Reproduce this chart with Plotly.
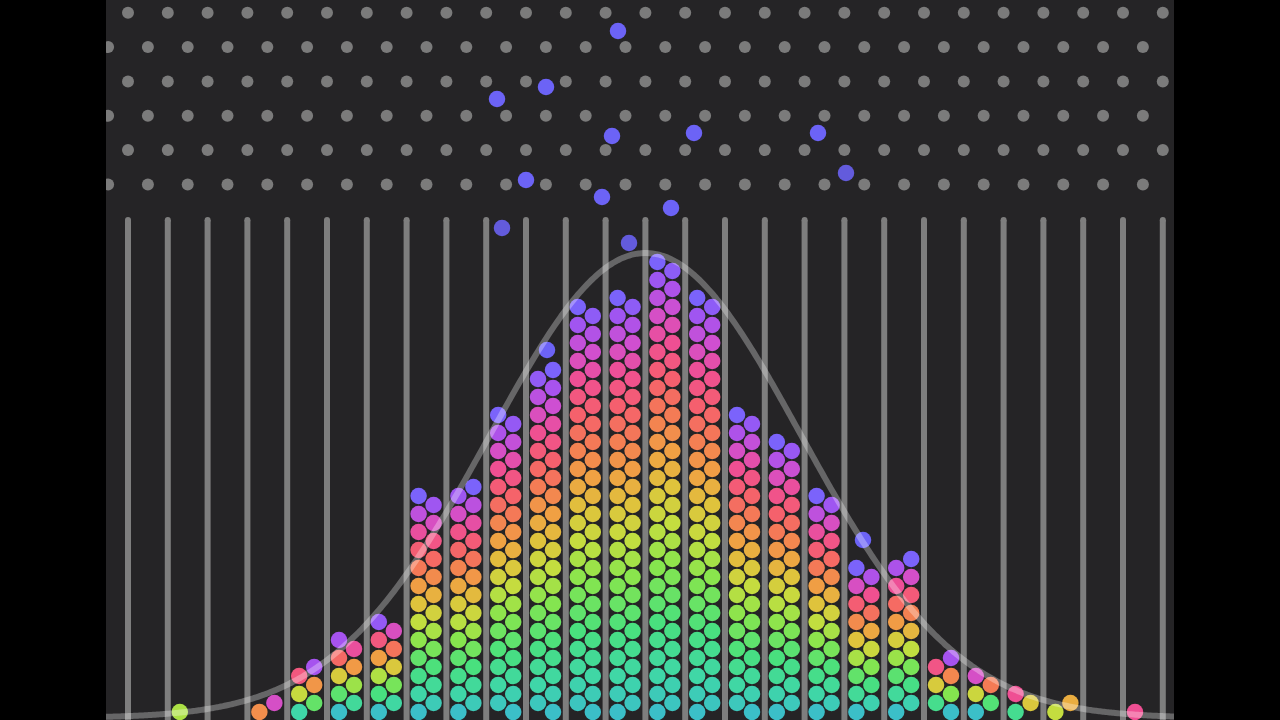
import numpy as np
import plotly.graph_objects as go

# ---------------- data ----------------
# balls settled in each of the 26 bins (left to right)
BIN_COUNTS = [0, 1, 0, 2, 6, 9, 11, 25, 26, 34, 39, 46, 47, 51,
              47, 34, 31, 25, 17, 18, 7, 5, 3, 2, 0, 1]
# column (Left / Right half of the bin) holding the topmost ball
BIN_TOP_COLUMN = ["L", "L", "L", "R", "R", "L", "L", "L", "R", "L", "R", "L", "L",
                  "L", "L", "L", "L", "L", "L", "R", "R", "L", "L", "R", "L", "L"]
# arrival phase (0 = first, 1 = latest) of the lowest and topmost ball of each bin
BIN_BOTTOM_PHASE = [0, 0.38, 0, 0.62, 0.08, 0, 0, 0, 0, 0, 0, 0, 0, 0,
                    0, 0, 0, 0, 0, 0, 0, 0, 0.15, 0.42, 0, 0.82]
BIN_TOP_PHASE = [1, 0.38, 1, 0.88, 0.95, 0.95, 0.97, 1, 1, 1, 1, 1, 1, 1,
                 1, 1, 1, 1, 1, 1, 0.95, 0.88, 0.82, 0.55, 1, 0.82]
# balls still falling through the pegs (board coordinates)
FALLING_X = [618, 546, 497, 612, 694, 818, 526, 602, 671, 846, 502, 629, 547, 863]
FALLING_Y = [31, 87, 99, 136, 133, 133, 180, 197, 208, 173, 228, 243, 350, 540]
FALLING_BLUR = [0, 0, 0, 0, 0, 0, 0, 0, 0, 1, 1, 1, 0, 0]
# normal curve drawn over the bins
CURVE_MEAN = 645.5
CURVE_SIGMA = 156
CURVE_PEAK = 465
CURVE_BASE = 718

# ---------------- board geometry / style ----------------
PITCH = 39.8
FIRST_DIVIDER = 128
N_DIVIDERS = 27
DIVIDER_TOP = 220
FLOOR = 712
HALF_ROW = 9
COL_OFFSET = {"L": 12, "R": 27}
PEG_ROWS = 6
PEG_ROW_Y0 = 12.7
PEG_ROW_STEP = 34.35

BG = "#252426"
PEG_COLOR = "#7b7b7b"
DIVIDER_COLOR = "#7e7e7e"
FALL_COLOR = "#6c63f6"
PALETTE = [
    (0.00, "#3bbfc8"), (0.08, "#3fd6a8"), (0.20, "#49e07e"), (0.32, "#86e54e"),
    (0.42, "#c4dd3f"), (0.50, "#dfc33c"), (0.58, "#f0a043"), (0.66, "#f47b55"),
    (0.74, "#f55f6e"), (0.82, "#ef4f93"), (0.89, "#d14fcf"), (0.95, "#a653ef"),
    (1.00, "#7b63fb"),
]


def hex2rgb(h):
    h = h.lstrip("#")
    return [int(h[i:i + 2], 16) for i in (0, 2, 4)]


def palette_color(t):
    t = min(max(t, 0.0), 1.0)
    for (t0, c0), (t1, c1) in zip(PALETTE[:-1], PALETTE[1:]):
        if t <= t1:
            f = 0 if t1 == t0 else (t - t0) / (t1 - t0)
            a, b = hex2rgb(c0), hex2rgb(c1)
            r = [round(a[i] + (b[i] - a[i]) * f) for i in range(3)]
            return "rgb(%d,%d,%d)" % tuple(r)
    return PALETTE[-1][1]


fig = go.Figure()

# pegs
px, py = [], []
for r in range(PEG_ROWS):
    y = PEG_ROW_Y0 + PEG_ROW_STEP * r
    start = FIRST_DIVIDER if r % 2 == 0 else FIRST_DIVIDER - PITCH / 2
    n = N_DIVIDERS if r % 2 == 0 else N_DIVIDERS + 1
    for j in range(n):
        px.append(start + PITCH * j)
        py.append(y)
fig.add_trace(go.Scatter(x=px, y=py, mode="markers",
                         marker=dict(size=12, color=PEG_COLOR, line=dict(width=0)),
                         hoverinfo="skip", showlegend=False))

# dividers
dx, dy = [], []
for j in range(N_DIVIDERS):
    x = FIRST_DIVIDER + PITCH * j
    dx += [x, x, None]
    dy += [DIVIDER_TOP, 730, None]
fig.add_trace(go.Scatter(x=dx, y=dy, mode="lines",
                         line=dict(width=6, color=DIVIDER_COLOR),
                         hoverinfo="skip", showlegend=False))
fig.add_trace(go.Scatter(x=[FIRST_DIVIDER + PITCH * j for j in range(N_DIVIDERS)],
                         y=[DIVIDER_TOP] * N_DIVIDERS, mode="markers",
                         marker=dict(size=6, color=DIVIDER_COLOR, line=dict(width=0)),
                         hoverinfo="skip", showlegend=False))

# settled balls
bx, by, bc = [], [], []
for i, n in enumerate(BIN_COUNTS):
    if n == 0:
        continue
    top_col = BIN_TOP_COLUMN[i]
    other = "R" if top_col == "L" else "L"
    left = FIRST_DIVIDER + PITCH * i
    t0, t1 = BIN_BOTTOM_PHASE[i], BIN_TOP_PHASE[i]
    for k in range(n):
        col = top_col if (n - 1 - k) % 2 == 0 else other
        bx.append(left + COL_OFFSET[col])
        by.append(FLOOR - HALF_ROW * k)
        t = t1 if n == 1 else t0 + (t1 - t0) * k / (n - 1)
        bc.append(palette_color(t))
fig.add_trace(go.Scatter(x=bx, y=by, mode="markers",
                         marker=dict(size=16.5, color=bc, line=dict(width=0)),
                         hoverinfo="skip", showlegend=False))

# falling balls
fig.add_trace(go.Scatter(x=FALLING_X, y=FALLING_Y, mode="markers",
                         marker=dict(size=16.5, color=FALL_COLOR,
                                     opacity=[0.88 if b else 1 for b in FALLING_BLUR],
                                     line=dict(width=0)),
                         hoverinfo="skip", showlegend=False))

# normal curve
cx = np.linspace(100, 1180, 400)
cy = CURVE_BASE - CURVE_PEAK * np.exp(-0.5 * ((cx - CURVE_MEAN) / CURVE_SIGMA) ** 2)
fig.add_trace(go.Scatter(x=cx, y=cy, mode="lines",
                         line=dict(width=6, color="rgba(255,255,255,0.3)", shape="spline"),
                         hoverinfo="skip", showlegend=False))

fig.update_layout(
    width=1280, height=720,
    margin=dict(l=106, r=106, t=0, b=0, pad=0),
    paper_bgcolor="#000000", plot_bgcolor=BG,
    xaxis=dict(range=[106, 1174], visible=False, showgrid=False, zeroline=False, fixedrange=True),
    yaxis=dict(range=[720, 0], visible=False, showgrid=False, zeroline=False, fixedrange=True),
    showlegend=False,
)

fig.write_html("out.html", config={"displayModeBar": False, "responsive": False},
               post_script="document.body.style.margin='0';document.body.style.background='#000';")
